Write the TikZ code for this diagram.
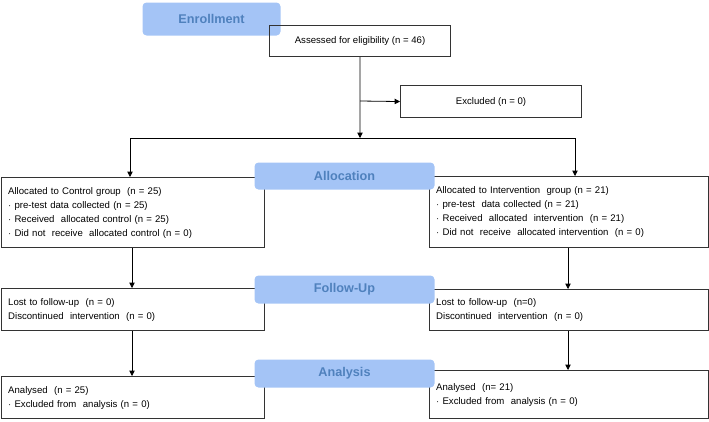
\documentclass[tikz,border=0pt]{standalone}
\usepackage{fontspec}
\setmainfont{Liberation Sans}
\usetikzlibrary{arrows.meta}

\tikzset{every picture/.style={line width=0.75pt}}
\definecolor{bannerfill}{RGB}{164,196,246}
\definecolor{bannertext}{RGB}{79,129,189}
\tikzset{
  box/.style={draw=black!80, line width=0.8pt, anchor=north west, inner sep=5pt, font=\fontsize{7.2}{10.5}\selectfont},
  lbox/.style={box, align=left, text width=#1},
  banner/.style={fill=bannerfill, rounded corners=3pt, anchor=north west, font=\bfseries\fontsize{9.5}{11}\selectfont, text=bannertext},
  arr/.style={-{Triangle[length=4pt,width=4pt]}, line width=0.6pt}
}

\begin{document}
\begin{tikzpicture}[x=0.75pt,y=0.75pt,yscale=-1,xscale=1]
\useasboundingbox (0,0) rectangle (709,421);

% Banners
\node [banner, minimum width=103.5pt, minimum height=24.75pt] (enroll) at (142,2) {Enrollment};
% Boxes
\node [box, minimum width=135.75pt, minimum height=23.25pt] (assess) at (269,25) {Assessed for eligibility (n = 46)};
\node [box, minimum width=135.75pt, minimum height=24pt] (excl) at (400,85) {Excluded (n = 0)};

\node [lbox=187pt, minimum height=52.5pt] (ctrl) at (1,177) {Allocated to Control group~~(n = 25)\\ $\cdot$ pre-test data collected (n = 25)\\ $\cdot$ Received~~allocated control (n = 25)\\ $\cdot$ Did not~~receive~~allocated control (n = 0)};
\node [lbox=199pt, minimum height=53pt] (intv) at (429,176) {Allocated to Intervention~~group (n = 21)\\ $\cdot$ pre-test~~data collected (n = 21)\\ $\cdot$ Received~~allocated~~intervention~~(n = 21)\\ $\cdot$ Did not~~receive~~allocated intervention~~(n = 0)};
\node [banner, minimum width=135pt, minimum height=20.25pt] (alloc) at (254,162) {Allocation};

\node [lbox=187pt, minimum height=31.5pt] (cfu) at (1,288) {Lost to follow-up~~(n = 0)\\ Discontinued~~intervention~~(n = 0)};
\node [lbox=199pt, minimum height=30.75pt] (ifu) at (429,289) {Lost to follow-up~~(n=0)\\ Discontinued~~intervention~~(n = 0)};
\node [banner, minimum width=135pt, minimum height=21pt] (follow) at (254,275) {Follow-Up};

\node [lbox=187pt, minimum height=31.5pt] (cana) at (1,376) {Analysed~~(n = 25)\\ $\cdot$ Excluded from~~analysis (n = 0)};
\node [lbox=199pt, minimum height=36pt] (iana) at (429,370) {Analysed~~(n= 21)\\ $\cdot$ Excluded from~~analysis (n = 0)};
\node [banner, minimum width=135pt, minimum height=21pt] (analysis) at (254,359) {Analysis};

% Connectors
\coordinate (branch) at (360,101);
\coordinate (split) at (360,138);
\draw [arr] (assess.south) -- (split);
\draw [arr] (branch) -- (excl.west);
\draw [arr] (130,138) -- (ctrl.north -| 130,0);
\draw [line width=0.6pt] (130,138) -- (575,138);
\draw [arr] (575,138) -- (575,176);
\draw [arr] (ctrl.south -| 132,0) -- (cfu.north -| 132,0);
\draw [arr] (cfu.south -| 132,0) -- (cana.north -| 132,0);
\draw [arr] (intv.south -| 568,0) -- (ifu.north -| 568,0);
\draw [arr] (ifu.south -| 568,0) -- (iana.north -| 568,0);
\end{tikzpicture}
\end{document}
